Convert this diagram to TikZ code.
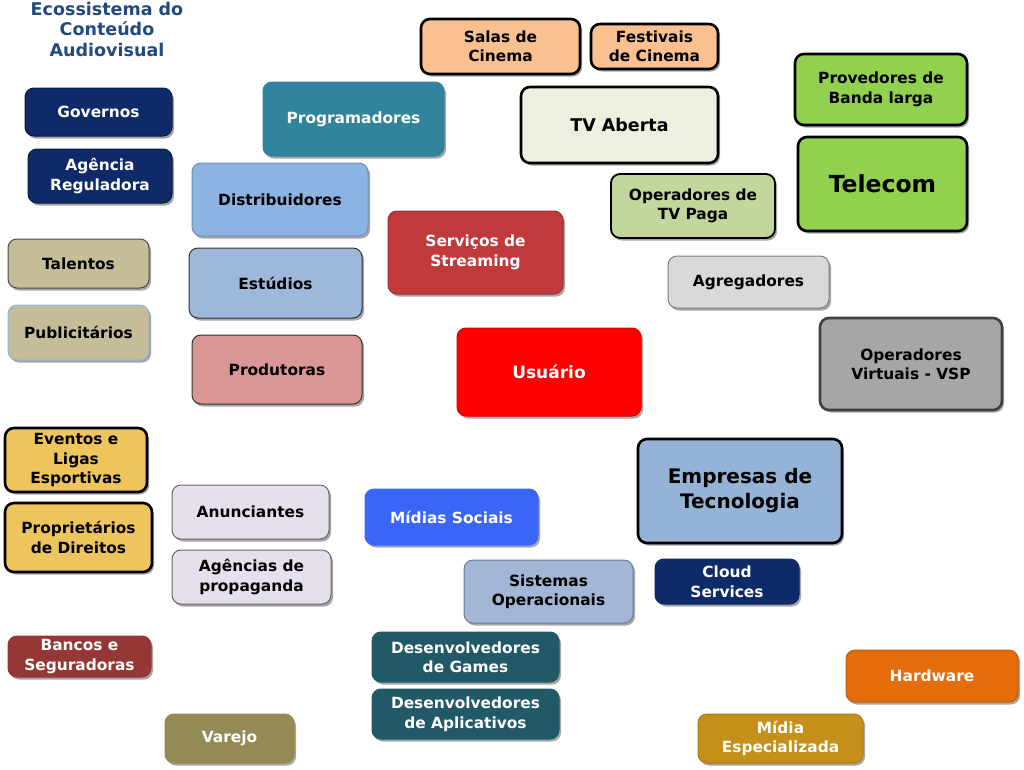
\documentclass[tikz,border=0pt]{standalone}
\usepackage{fontspec}
\setmainfont{DejaVu Sans}
\usetikzlibrary{shadows}
\definecolor{navy}{HTML}{0E2A68}
\definecolor{titleblue}{HTML}{234A80}
\definecolor{tan}{HTML}{C4BD97}
\definecolor{gold}{HTML}{EDC55C}
\definecolor{bank}{HTML}{953735}
\definecolor{olive}{HTML}{948A54}
\definecolor{teal}{HTML}{31849B}
\definecolor{distb}{HTML}{8DB3E2}
\definecolor{studb}{HTML}{9DB8DA}
\definecolor{prodr}{HTML}{D99694}
\definecolor{peach}{HTML}{FAC090}
\definecolor{tvab}{HTML}{EBF1DE}
\definecolor{lgreen}{HTML}{92D050}
\definecolor{tvpaga}{HTML}{C3D69B}
\definecolor{stream}{HTML}{C0393B}
\definecolor{agreg}{HTML}{D9D9D9}
\definecolor{vsp}{HTML}{A6A6A6}
\definecolor{techb}{HTML}{95B3D7}
\definecolor{lilac}{HTML}{E6E0EC}
\definecolor{social}{HTML}{3A66F8}
\definecolor{sysop}{HTML}{A3B6D6}
\definecolor{devteal}{HTML}{215967}
\definecolor{hw}{HTML}{E46C0A}
\definecolor{midia}{HTML}{C5901A}
\tikzset{
  box/.style={rounded corners=9pt, align=center, font=\bfseries\fontsize{15.4}{19.5}\selectfont, inner sep=2pt,
    drop shadow={shadow xshift=2pt, shadow yshift=-2.5pt, opacity=0.35, fill=black}},
  thin/.style={draw=#1, line width=1pt},
  thick3/.style={draw=black, line width=2.6pt},
  wt/.style={text=white},
  bt/.style={text=black},
}
\newcommand\bx[7]{\node[box, #6, minimum width={#4pt-#2pt}, minimum height={#5pt-#3pt}] (#1) at ({(#2+#4)/2},{(#3+#5)/2}) {#7};}
\begin{document}
\begin{tikzpicture}[x=1pt,y=-1pt]
\useasboundingbox[fill=white] (0,0) rectangle (1024,769);
\node[align=center, text=titleblue, font=\bfseries\fontsize{17.5}{20.5}\selectfont] (title) at (107,29) {Ecossistema do\\Conteúdo\\Audiovisual};
\bx{gov}{25}{88}{172}{136}{fill=navy, thin=navy!60!black, wt}{Governos}
\bx{agencia}{28}{149}{172}{203}{fill=navy, thin=navy!60!black, wt}{Agência\\Reguladora}
\bx{talentos}{8}{239}{149}{288}{fill=tan, thin=black!70, bt}{Talentos}
\bx{public}{8}{305}{149}{360}{fill=tan, thin=distb, bt}{Publicitários}
\bx{eventos}{5}{428}{147}{492}{fill=gold, thick3, bt}{Eventos e\\Ligas\\Esportivas}
\bx{propr}{5}{503}{152}{572}{fill=gold, thick3, bt}{Proprietários\\de Direitos}
\bx{bancos}{8}{636}{151}{677}{fill=bank, thin=bank, wt}{Bancos e\\Seguradoras}
\bx{varejo}{165}{714}{294}{763}{fill=olive, thin=olive, wt}{Varejo}
\bx{program}{263}{82}{444}{156}{fill=teal, thin=teal, wt}{Programadores}
\bx{distrib}{192}{163}{368}{236}{fill=distb, thin=distb!80!black, bt}{Distribuidores}
\bx{estudios}{189}{248}{362}{318}{fill=studb, thin=black!80, bt}{Estúdios}
\bx{produt}{192}{335}{362}{404}{fill=prodr, thin=black!80, bt}{Produtoras}
\bx{salas}{421}{19}{580}{74}{fill=peach, thick3, bt}{Salas de\\Cinema}
\bx{festivais}{591}{24}{718}{69}{fill=peach, thick3, bt}{Festivais\\de Cinema}
\bx{tvaberta}{521}{87}{718}{163}{fill=tvab, thick3, bt, font=\bfseries\fontsize{17.5}{22}\selectfont}{TV Aberta}
\bx{banda}{795}{54}{967}{125}{fill=lgreen, thick3, bt}{Provedores de\\Banda larga}
\bx{telecom}{798}{137}{967}{231}{fill=lgreen, thick3, bt, font=\bfseries\fontsize{23.5}{28}\selectfont}{Telecom}
\bx{tvpaga}{611}{174}{775}{238}{fill=tvpaga, draw=black, line width=1.8pt, bt}{Operadores de\\TV Paga}
\bx{streaming}{388}{211}{563}{294}{fill=stream, thin=stream!80!black, wt}{Serviços de\\Streaming}
\bx{agreg}{668}{256}{829}{308}{fill=agreg, thin=black!50, bt}{Agregadores}
\bx{vsp}{820}{318}{1002}{410}{fill=vsp, draw=black!75, line width=2.6pt, bt}{Operadores\\Virtuais - VSP}
\bx{usuario}{457}{328}{641}{416}{fill=red, thin=red!85!black, wt, font=\bfseries\fontsize{17}{21}\selectfont}{Usuário}
\bx{tech}{638}{439}{842}{543}{fill=techb, thick3, bt, font=\bfseries\fontsize{20}{25}\selectfont}{Empresas de\\Tecnologia}
\bx{anunc}{172}{485}{329}{539}{fill=lilac, thin=black!60, bt}{Anunciantes}
\bx{agprop}{172}{550}{331}{604}{fill=lilac, thin=black!60, bt}{Agências de\\propaganda}
\bx{social}{365}{489}{538}{545}{fill=social, thin=social, wt}{Mídias Sociais}
\bx{sysop}{464}{560}{633}{623}{fill=sysop, thin=techb!70!black, bt}{Sistemas\\Operacionais}
\bx{cloud}{655}{559}{799}{604}{fill=navy, thin=navy, wt}{Cloud\\Services}
\bx{games}{372}{632}{559}{682}{fill=devteal, thin=devteal, wt}{Desenvolvedores\\de Games}
\bx{apps}{372}{689}{559}{739}{fill=devteal, thin=devteal, wt}{Desenvolvedores\\de Aplicativos}
\bx{hardware}{846}{650}{1018}{702}{fill=hw, thin=hw!85!black, wt}{Hardware}
\bx{midiaesp}{698}{714}{863}{763}{fill=midia, thin=midia!85!black, wt}{Mídia\\Especializada}
\end{tikzpicture}
\end{document}
